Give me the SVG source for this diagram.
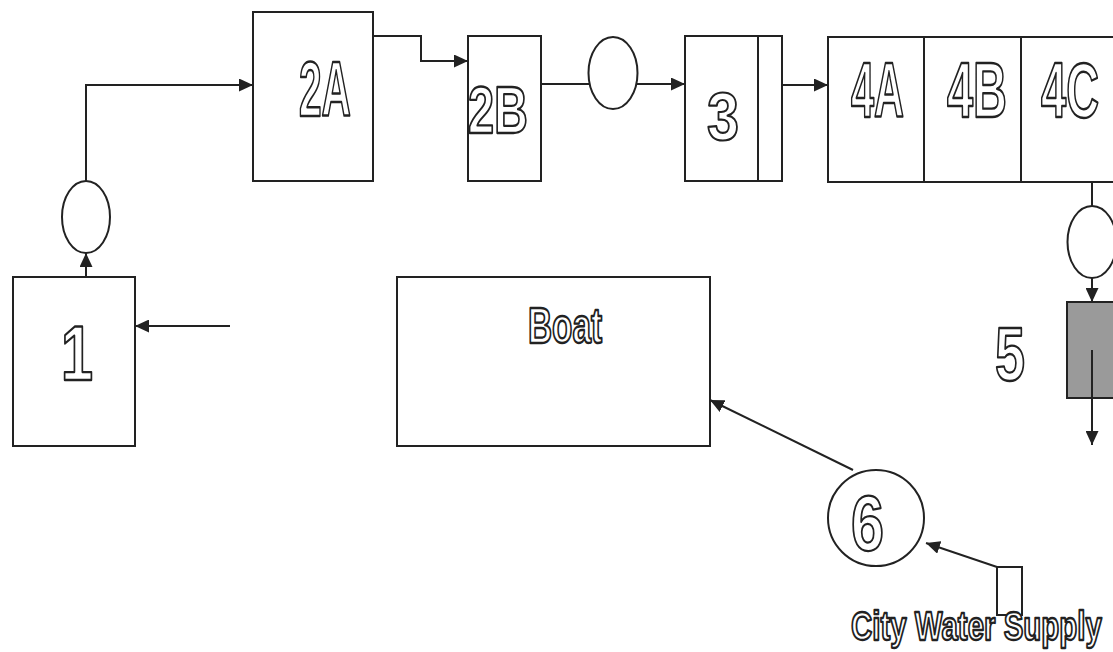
<svg xmlns="http://www.w3.org/2000/svg" width="1113" height="652" viewBox="0 0 1113 652">
<style>
.box{fill:#fff;stroke:#222;stroke-width:2}
.shade{fill:#9a9a9a;stroke:#222;stroke-width:2}
.ln{fill:none;stroke:#222;stroke-width:2}
.lbl{font-family:"Liberation Sans",Arial,sans-serif;font-weight:bold;fill:#fff;stroke:#222;stroke-width:2;stroke-linejoin:round;vector-effect:non-scaling-stroke}
</style>
<defs>
<marker id="arr" markerUnits="userSpaceOnUse" markerWidth="15" markerHeight="13" refX="14" refY="6.5" orient="auto">
<path d="M0,0 L14,6.5 L0,13 z" fill="#222"/>
</marker>
</defs>
<rect width="1113" height="652" fill="#fff"/>
<g id="connectors">
<path class="ln" d="M86,277 V253" marker-end="url(#arr)"/>
<path class="ln" d="M86,181 V85 H253" marker-end="url(#arr)"/>
<path class="ln" d="M373,36 H421 V61 H468" marker-end="url(#arr)"/>
<path class="ln" d="M541,84 H590"/>
<path class="ln" d="M637,84 H685" marker-end="url(#arr)"/>
<path class="ln" d="M782,85 H828" marker-end="url(#arr)"/>
<path class="ln" d="M1092,182 V206"/>
<path class="ln" d="M1092,278 V302" marker-end="url(#arr)"/>
<path class="ln" d="M230,326 H135" marker-end="url(#arr)"/>
<path class="ln" d="M853,470 L710,400" marker-end="url(#arr)"/>
<path class="ln" d="M997,567 L926,543" marker-end="url(#arr)"/>
</g>
<g id="node1">
<rect class="box" x="13" y="277" width="122" height="169"/>
<text class="lbl" transform="translate(61,380) scale(0.748,1)" font-size="77">1</text>
</g>
<g id="valve1">
<ellipse class="box" cx="86" cy="217" rx="24" ry="36"/>
</g>
<g id="node2A">
<rect class="box" x="253" y="12" width="120" height="169"/>
<text class="lbl" transform="translate(299,116) scale(0.528,1)" font-size="77">2A</text>
</g>
<g id="node2B">
<rect class="box" x="468" y="36" width="73" height="145"/>
<text class="lbl" transform="translate(468,133) scale(0.712,1)" font-size="66">2B</text>
</g>
<g id="valve2">
<ellipse class="box" cx="613" cy="73" rx="24.5" ry="36"/>
</g>
<g id="node3">
<rect class="box" x="685" y="36" width="97" height="145"/>
<line class="ln" x1="758" y1="36" x2="758" y2="181"/>
<text class="lbl" transform="translate(707,140) scale(0.834,1)" font-size="69">3</text>
</g>
<g id="node4">
<rect class="box" x="828" y="37" width="300" height="145"/>
<line class="ln" x1="924" y1="37" x2="924" y2="182"/>
<line class="ln" x1="1021" y1="37" x2="1021" y2="182"/>
<text class="lbl" transform="translate(851,117) scale(0.532,1)" font-size="78">4A</text>
<text class="lbl" transform="translate(947,117) scale(0.602,1)" font-size="78">4B</text>
<text class="lbl" transform="translate(1041,117) scale(0.582,1)" font-size="78">4C</text>
</g>
<g id="valve3">
<ellipse class="box" cx="1092" cy="242" rx="24.5" ry="36"/>
</g>
<g id="node5">
<rect class="shade" x="1067" y="302" width="60" height="96"/>
<path class="ln" d="M1092,350 V445" marker-end="url(#arr)"/>
<text class="lbl" transform="translate(995,380) scale(0.71,1)" font-size="76">5</text>
</g>
<g id="boat">
<rect class="box" x="397" y="277" width="313" height="169"/>
<text class="lbl" transform="translate(528,343) scale(0.666,1)" font-size="50">Boat</text>
</g>
<g id="node6">
<circle class="box" cx="876" cy="518" r="48"/>
<text class="lbl" transform="translate(851,550) scale(0.761,1)" font-size="78">6</text>
</g>
<g id="city">
<rect class="box" x="997" y="567" width="25" height="48"/>
<text class="lbl" transform="translate(851,640) scale(0.736,1)" font-size="40">City Water Supply</text>
</g>
</svg>
